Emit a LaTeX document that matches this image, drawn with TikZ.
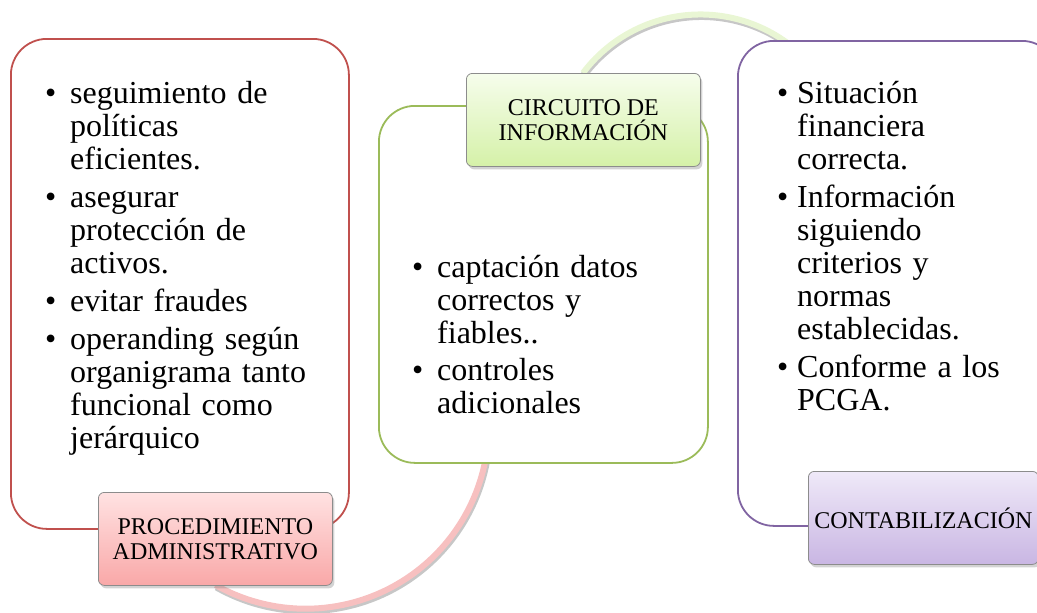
\documentclass[tikz,border=0pt]{standalone}
\usepackage{fontspec}
\setmainfont{Liberation Serif}
\usetikzlibrary{positioning, shadows}

\definecolor{procred}{HTML}{C0504D}
\definecolor{circgreen}{HTML}{9BBB59}
\definecolor{contpurple}{HTML}{8064A2}
\definecolor{procring}{HTML}{F7C0C0}
\definecolor{circring}{HTML}{E9F6D4}
\definecolor{proctop}{HTML}{FFE2E2}
\definecolor{procbot}{HTML}{F9A8A8}
\definecolor{circtop}{HTML}{F6FDEC}
\definecolor{circbot}{HTML}{D5F1A8}
\definecolor{conttop}{HTML}{EFE9F8}
\definecolor{contbot}{HTML}{C9B6E3}

% one bullet entry, text column indented by #1
\newcommand{\bitem}[2][25pt]{\par\noindent\makebox[#1][l]{\textbullet}%
  \begin{tabular}[t]{@{}l@{}}#2\end{tabular}\par}

\tikzset{
  bigbox/.style={draw=#1, line width=1.8pt, fill=white, rounded corners=36pt,
    anchor=north west, inner sep=0pt},
  namebox/.style={draw=black!45, line width=0.8pt, rounded corners=6pt,
    minimum width=234pt, minimum height=93pt, anchor=north west, align=center,
    font=\fontsize{24}{25}\selectfont,
    drop shadow={opacity=0.35, shadow xshift=2pt, shadow yshift=-3pt}},
  bullets/.style={anchor=north west, inner sep=0pt, text width=#1,
    font=\fontsize{32}{33}\selectfont},
  ring/.style={line width=6pt, draw=#1,
    preaction={draw=black!22, line width=7pt, transform canvas={xshift=1pt, yshift=-2pt}}}
}

\begin{document}
\begin{tikzpicture}[x=1pt, y=-1pt]
    \clip (0,0) rectangle (1037,613);

    % arcs go under the boxes
    \coordinate (procarc) at (215.5,585);
    \coordinate (circarc) at (583,73);
    \draw[ring=procring] (procarc) arc[start angle=119.5, end angle=6, radius=183];
    \draw[ring=circring] (circarc) arc[start angle=217, end angle=322, radius=147];

    \node[bigbox=procred, minimum width=338pt, minimum height=490pt] (procbox) at (10,38) {};
    \node[bigbox=circgreen, minimum width=329pt, minimum height=357pt] (circbox) at (378,105) {};
    \node[bigbox=contpurple, minimum width=320pt, minimum height=485pt] (contbox) at (737,40) {};

    \node[bullets=290pt] (proctext) at (45,65) {\lineskip=0pt\setlength{\parskip}{5pt}%
        \bitem{seguimiento de\\ políticas\\ eficientes.}
        \bitem{asegurar\\ protección de\\ activos.}
        \bitem{evitar fraudes}
        \bitem{operanding según\\ organigrama tanto\\ funcional como\\ jerárquico}};
    \node[bullets=280pt] (circtext) at (412,240) {\lineskip=0pt\setlength{\parskip}{4pt}%
        \bitem{captación datos\\ correctos y\\ fiables..}
        \bitem{controles\\ adicionales}};
    \node[bullets=250pt] (conttext) at (777,65) {\lineskip=0pt\setlength{\parskip}{5pt}%
        \bitem[20pt]{Situación\\ financiera\\ correcta.}
        \bitem[20pt]{Información\\ siguiendo\\ criterios y\\ normas\\ establecidas.}
        \bitem[20pt]{Conforme a los\\ PCGA.}};

    \node[namebox, top color=proctop, bottom color=procbot] (procname) at (98,492)
        {PROCEDIMIENTO\\ ADMINISTRATIVO};
    \node[namebox, top color=circtop, bottom color=circbot] (circname) at (466,73)
        {CIRCUITO DE\\ INFORMACIÓN};
    \node[namebox, minimum width=230pt, top color=conttop, bottom color=contbot]
        (contname) at (808,471) {CONTABILIZACIÓN};
\end{tikzpicture}
\end{document}
